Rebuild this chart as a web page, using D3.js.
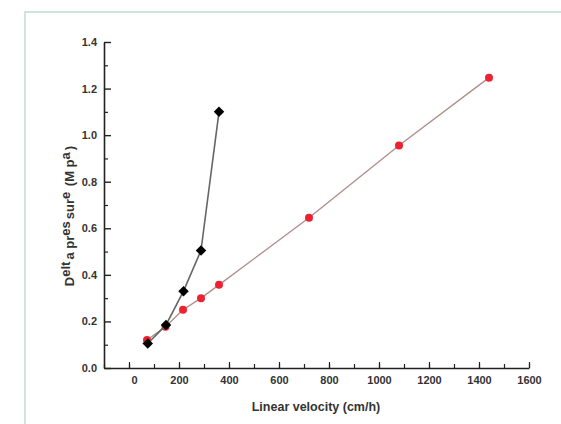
<!DOCTYPE html>
<html>
<head>
<meta charset="utf-8">
<script src="https://cdn.jsdelivr.net/npm/d3@7"></script>
<style>
body { margin: 0; background: #fff; }
svg { display: block; font-family: "Liberation Sans", Arial, sans-serif; }
.tick text { font-weight: bold; fill: #333; font-size: 11px; }
</style>
</head>
<body>
<svg id="chart"></svg>
<script>
var width = 561,
    height = 424;

// black series (diamonds)
var blackX = [75, 148, 218, 288, 360];
var blackY = [0.105, 0.185, 0.33, 0.505, 1.10];

// red series (circles)
var redX = [72, 146, 216, 288, 360, 720, 1080, 1440];
var redY = [0.12, 0.177, 0.25, 0.30, 0.357, 0.645, 0.956, 1.247];

var xTicks = [0, 200, 400, 600, 800, 1000, 1200, 1400, 1600];
var yTicks = [0.0, 0.2, 0.4, 0.6, 0.8, 1.0, 1.2, 1.4];

var plot = {left: 104, right: 529, top: 42, bottom: 368};

var svg = d3.select("#chart")
    .attr("width", width)
    .attr("height", height);

// light frame round the figure
svg.append("path")
    .attr("d", "M25," + height + "V12H" + width)
    .attr("fill", "none")
    .attr("stroke", "#cfe4dc")
    .attr("stroke-width", 2);

var x = d3.scaleLinear()
    .domain([-100, 1600])
    .range([plot.left, plot.right]);

var y = d3.scaleLinear()
    .domain([0, 1.4])
    .range([plot.bottom, plot.top]);

// minor ticks first
svg.append("g")
    .attr("transform", "translate(0," + plot.bottom + ")")
    .call(d3.axisTop(x).tickValues(d3.range(-100, 1601, 100)).tickSize(4).tickFormat(""))
    .call(function(g) { g.select(".domain").remove(); })
    .selectAll("line").attr("stroke", "#222").attr("stroke-width", 1.2);

svg.append("g")
    .attr("transform", "translate(" + plot.left + ",0)")
    .call(d3.axisRight(y).tickValues(d3.range(0.1, 1.4, 0.2)).tickSize(4).tickFormat(""))
    .call(function(g) { g.select(".domain").remove(); })
    .selectAll("line").attr("stroke", "#222").attr("stroke-width", 1.2);

// x axis
var xAxis = svg.append("g")
    .attr("transform", "translate(0," + plot.bottom + ")")
    .call(d3.axisBottom(x).tickValues(xTicks).tickSize(0).tickPadding(8).tickSizeOuter(0)
        .tickFormat(d3.format("d")));
xAxis.select(".domain").attr("stroke", "#222").attr("stroke-width", 1.6);
xAxis.selectAll(".tick").append("line")
    .attr("y2", -6)
    .attr("stroke", "#222")
    .attr("stroke-width", 1.2);
// the "0" label sits a little right of its tick in the original
xAxis.selectAll(".tick text").filter(function(d) { return d === 0; }).attr("dx", 5);

// y axis
var yAxis = svg.append("g")
    .attr("transform", "translate(" + plot.left + ",0)")
    .call(d3.axisLeft(y).tickValues(yTicks).tickSize(0).tickPadding(7).tickSizeOuter(0)
        .tickFormat(d3.format(".1f")));
yAxis.select(".domain").attr("stroke", "#222").attr("stroke-width", 1.6);
yAxis.selectAll(".tick").append("line")
    .attr("x2", 7)
    .attr("stroke", "#222")
    .attr("stroke-width", 1.4);

// axis titles
svg.append("text")
    .attr("x", 316)
    .attr("y", 411)
    .attr("text-anchor", "middle")
    .attr("font-weight", "bold")
    .attr("font-size", 12.5)
    .attr("fill", "#333")
    .text("Linear velocity (cm/h)");

var ytitle = svg.append("text")
    .attr("transform", "translate(74,216) rotate(-90)")
    .attr("text-anchor", "middle")
    .attr("font-weight", "bold")
    .attr("font-size", 13)
    .attr("fill", "#333");
var parts = [["D", 0], ["elt", -4], ["a pr", 0], ["es", -4], ["sur", 0], ["e", -4], [" (M p", 0], ["a", -4], [")", 0]];
var prev = 0;
parts.forEach(function(p) {
    ytitle.append("tspan")
        .attr("dy", p[1] - prev)
        .attr("dx", p[1] === 0 && prev !== 0 ? 2 : 0)
        .text(p[0]);
    prev = p[1];
});

var line = d3.line()
    .x(function(d) { return x(d[0]); })
    .y(function(d) { return y(d[1]); });

var red = redX.map(function(v, i) { return [v, redY[i]]; });
var black = blackX.map(function(v, i) { return [v, blackY[i]]; });

svg.append("path")
    .datum(red)
    .attr("d", line)
    .attr("fill", "none")
    .attr("stroke", "#b08c88")
    .attr("stroke-width", 1.3);

svg.selectAll(".red")
    .data(red)
    .enter().append("circle")
    .attr("class", "red")
    .attr("cx", function(d) { return x(d[0]); })
    .attr("cy", function(d) { return y(d[1]); })
    .attr("r", 4)
    .attr("fill", "#ec2230");

svg.append("path")
    .datum(black)
    .attr("d", line)
    .attr("fill", "none")
    .attr("stroke", "#666")
    .attr("stroke-width", 1.6);

svg.selectAll(".black")
    .data(black)
    .enter().append("path")
    .attr("class", "black")
    .attr("transform", function(d) { return "translate(" + x(d[0]) + "," + y(d[1]) + ")"; })
    .attr("d", d3.symbol(d3.symbolDiamond2, 70))
    .attr("fill", "#000");
</script>
</body>
</html>
